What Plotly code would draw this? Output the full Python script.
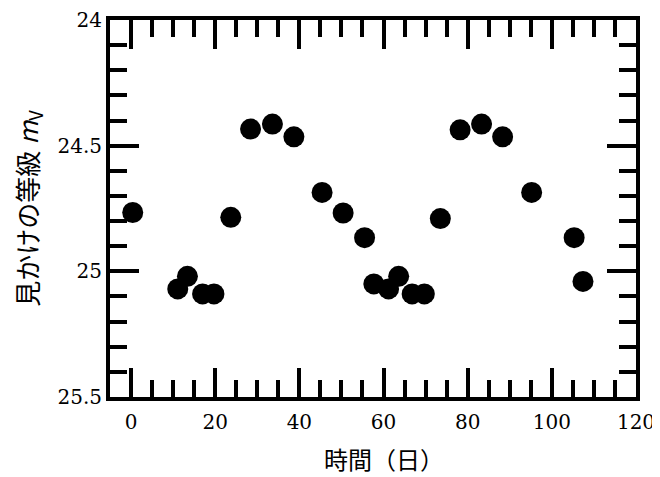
import plotly.graph_objects as go

days = [0.4, 11.1, 13.4, 17.0, 19.7, 23.7, 28.4, 33.6, 38.7, 45.4, 50.4, 55.5,
        57.7, 61.2, 63.6, 66.8, 69.7, 73.5, 78.2, 83.3, 88.3, 95.2, 105.3, 107.4]
mags = [24.766, 25.07, 25.02, 25.09, 25.09, 24.785, 24.434, 24.414, 24.465, 24.686,
        24.768, 24.866, 25.05, 25.07, 25.02, 25.09, 25.09, 24.79, 24.437, 24.414,
        24.465, 24.686, 24.866, 25.04]

x_ticks = [0, 20, 40, 60, 80, 100, 120]
y_ticks = [24, 24.5, 25, 25.5]
y_ticklabels = ["24", "24.5", "25", "25.5"]
x_title = "時間（日）"
y_title = "見かけの等級 <i>m</i><sub>V</sub>"

fig = go.Figure()
fig.add_trace(go.Scatter(
    x=days, y=mags, mode="markers",
    marker=dict(size=21, color="black", line=dict(width=0)),
    hoverinfo="skip", showlegend=False,
))

tickfont = dict(family="DejaVu Serif", size=20, color="black")
cjk = "Noto Sans CJK JP"

# the page body adds an 8px offset, so the figure is sized to fill the rest of the window
fig.update_layout(
    width=652, height=469,
    margin=dict(l=102, r=24, t=12, b=80, autoexpand=False),
    paper_bgcolor="white", plot_bgcolor="white",
    xaxis=dict(
        range=[-5, 120], tickvals=x_ticks, ticktext=[str(v) for v in x_ticks],
        ticks="inside", ticklen=29, tickwidth=4, tickcolor="black",
        showline=True, linewidth=4, linecolor="black", mirror="allticks",
        showgrid=False, zeroline=False, tickfont=tickfont, automargin=False,
        ticklabeloverflow="allow", ticklabelstandoff=4,
        minor=dict(dtick=5, tick0=0, ticks="inside", ticklen=17, tickwidth=4,
                   tickcolor="black", showgrid=False),
    ),
    yaxis=dict(
        range=[25.5, 24], tickvals=y_ticks, ticktext=y_ticklabels,
        ticks="inside", ticklen=29, tickwidth=4, tickcolor="black",
        showline=True, linewidth=4, linecolor="black", mirror="allticks",
        showgrid=False, zeroline=False, tickfont=tickfont, automargin=False,
        ticklabeloverflow="allow",
        minor=dict(dtick=0.1, tick0=24, ticks="inside", ticklen=17, tickwidth=4,
                   tickcolor="black", showgrid=False),
        title=dict(text=y_title,
                   font=dict(family=cjk, size=26, color="black"), standoff=13),
    ),
    annotations=[dict(
        text=x_title, xref="paper", yref="paper", x=0.52, y=-0.162,
        xanchor="center", yanchor="middle", showarrow=False,
        font=dict(family=cjk, size=24, color="black"),
    )],
)

fig.write_html("out.html")
